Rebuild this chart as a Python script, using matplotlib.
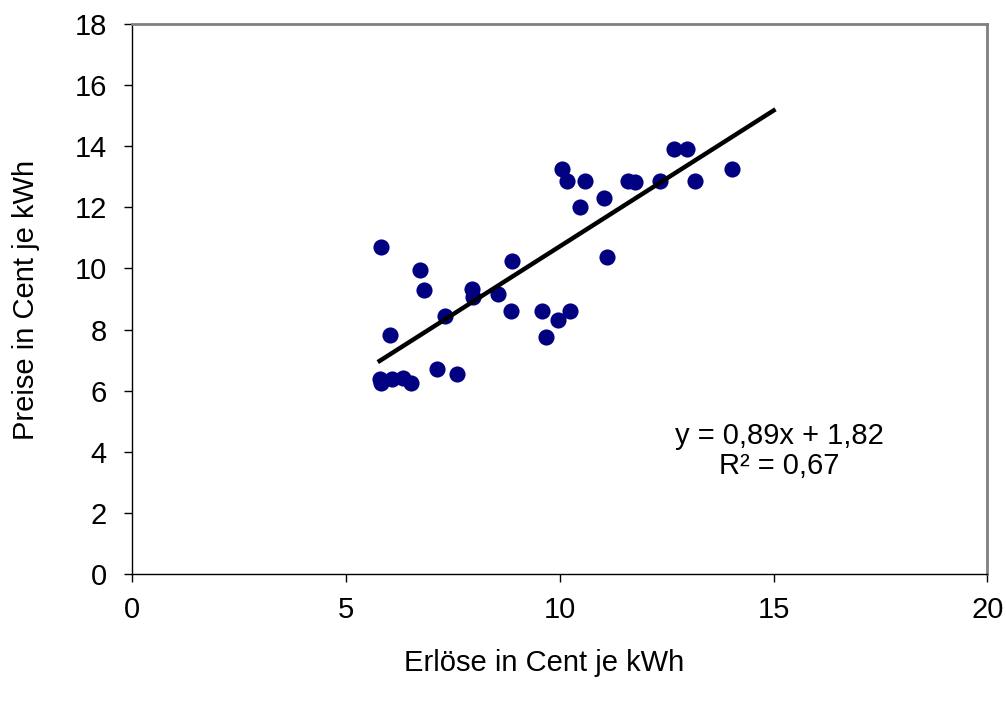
import numpy as np
import matplotlib
matplotlib.use("Agg")
import matplotlib.pyplot as plt

plt.rcParams['font.family'] = ['Liberation Sans', 'DejaVu Sans']

# Erlöse (x) und Preise (y) in Cent je kWh
erloese = [5.83, 6.73, 6.82, 7.94, 7.97, 8.56, 8.89, 8.85, 7.31, 6.04,
           9.59, 9.96, 9.67, 7.12, 7.59, 5.79, 5.83, 6.07, 6.34, 6.53,
           10.06, 10.18, 10.58, 10.47, 11.03, 11.60, 11.75, 12.35, 12.67,
           12.97, 13.17, 14.03, 11.11, 10.25]
preise = [10.69, 9.95, 9.29, 9.32, 9.07, 9.15, 10.24, 8.62, 8.44, 7.83,
          8.62, 8.31, 7.76, 6.70, 6.54, 6.38, 6.24, 6.37, 6.42, 6.24,
          13.25, 12.86, 12.87, 12.02, 12.30, 12.87, 12.82, 12.87, 13.91,
          13.91, 12.87, 13.25, 10.36, 8.61]

slope = 0.89
intercept = 1.82
trend_x = [min(erloese), 15]

fig = plt.figure(figsize=(10.06, 7.06), dpi=100)
ax = fig.add_axes([0.1312, 0.187, 0.8504, 0.779])

ax.scatter(erloese, preise, s=135, color='#000080', zorder=3, linewidths=0)
ax.plot(trend_x, [slope * v + intercept for v in trend_x], color='black', lw=3.2, zorder=4)

ax.text(15.14, 4.03, "y = 0,89x + 1,82\nR² = 0,67", ha='center', va='center',
        fontsize=21, linespacing=1.1)

ax.set_xlim(0, 20)
ax.set_ylim(0, 18)
ax.set_xticks([0, 5, 10, 15, 20])
ax.set_yticks(range(0, 19, 2))
ax.tick_params(direction='out', length=6, width=1, labelsize=21)
ax.tick_params(axis='y', pad=12)
ax.tick_params(axis='x', pad=10)

for s in ['top', 'right']:
    ax.spines[s].set_color('#808080')
    ax.spines[s].set_linewidth(2)
for s in ['left', 'bottom']:
    ax.spines[s].set_color('black')
    ax.spines[s].set_linewidth(1)

fig.text(0.541, 0.061, "Erlöse in Cent je kWh", ha='center', va='center', fontsize=21)
fig.text(0.026, 0.575, "Preise in Cent je kWh", ha='center', va='center', rotation=90, fontsize=21)

fig.savefig("out.png", dpi=100)
